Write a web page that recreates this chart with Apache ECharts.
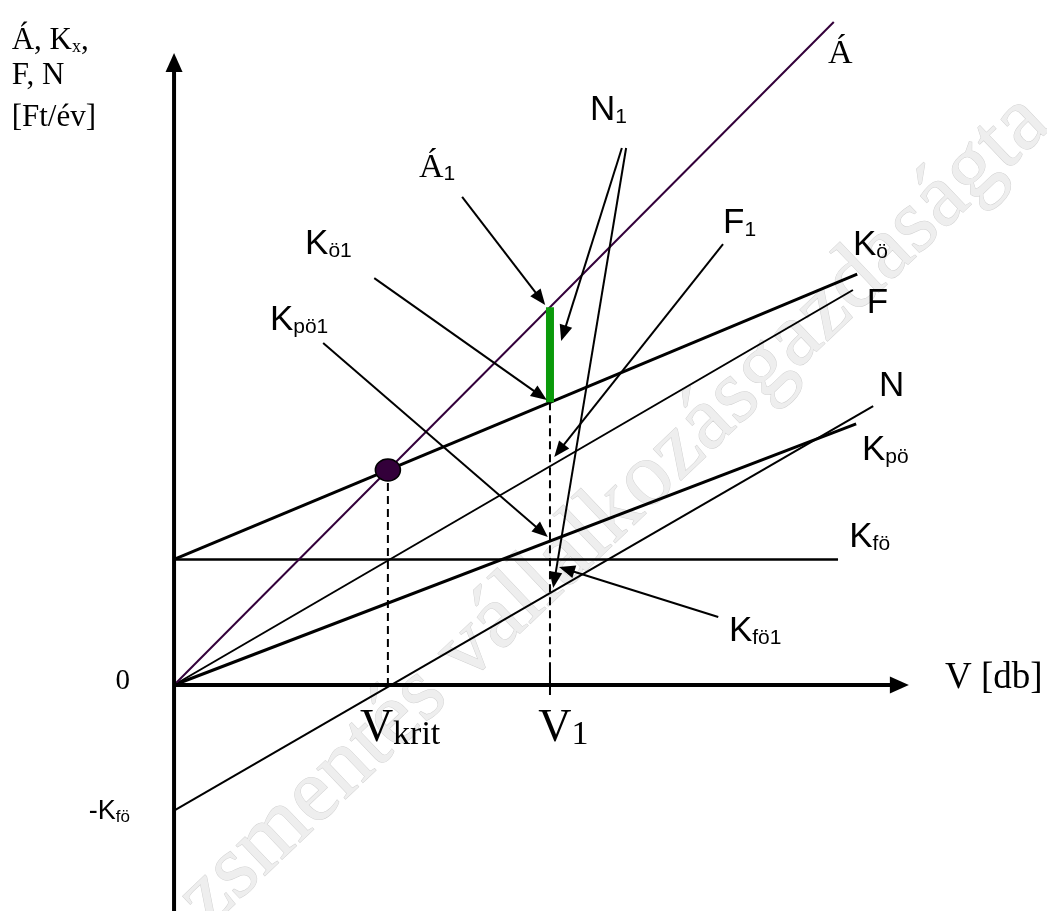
<!DOCTYPE html>
<html>
<head>
<meta charset="utf-8">
<title>Fedezeti diagram</title>
<script src="https://cdn.jsdelivr.net/npm/echarts@6/dist/echarts.min.js"></script>
<style>
  html, body { margin: 0; padding: 0; background: #fff; }
  #chart { width: 1047px; height: 911px; }
</style>
</head>
<body>
<div id="chart"></div>
<script>
/* Break-even (fedezeti) chart: V [db] on x, Á / Kx / F / N [Ft/év] on y, abstract units */

// straight lines as [start, end] points (V, Ft/év)
const revenueA = [[0, 0], [12.39, 52.8]];
const totalCostKo = [[0, 10], [12.83, 32.73]];
const contributionF = [[0, 0], [12.75, 31.46]];
const varCostKpo = [[0, 0], [12.81, 20.79]];
const profitN = [[0, -10], [13.13, 22.22]];
const fixedCostKfo = [[0, 10], [12.47, 10]];

const vKrit = 4.016;
const v1 = 7.06;
const breakEven = [vKrit, 17.12];
const revenueAtV1 = [v1, 30.09]; // Á1
const costAtV1 = [v1, 22.51];    // Kö1

// axes drawn as arrows
const axisArrows = [
  [0, -18, 0, 50.33],
  [0, 0, 13.8, 0],
];

// pointer arrows: [fromV, fromY, toV, toY]
const pointerArrows = [
  [5.41, 38.87, 6.97, 30.26],  // Á1
  [3.76, 32.41, 7.0, 22.7],    // Kö1
  [2.8, 27.24, 7.02, 11.79],   // Kpö1
  [8.41, 42.77, 7.27, 27.4],   // N1 -> green bar
  [8.49, 42.77, 7.12, 7.73],   // N1 -> N at V1
  [10.31, 35.12, 7.14, 18.16], // F1
  [10.22, 5.42, 7.23, 9.4],    // Kfö1
];

// text labels: position = left edge / vertical middle
const labels = [
  { value: [12.75, 35.04], text: '{A|K}{a|ö}' },
  { value: [13.01, 30.42], text: '{A|F}' },
  { value: [13.24, 23.81], text: '{A|N}' },
  { value: [12.92, 18.72], text: '{A|K}{a|pö}' },
  { value: [12.68, 11.79], text: '{A|K}{a|fö}' },
  { value: [10.42, 4.3], text: '{A|K}{a|fö1}' },
  { value: [2.46, 35.12], text: '{A|K}{a|ö1}' },
  { value: [1.8, 29.07], text: '{A|K}{a|pö1}' },
  { value: [7.81, 45.79], text: '{A|N}{a|1}' },
  { value: [10.31, 36.79], text: '{A|F}{a|1}' },
  { value: [4.6, 41.18], text: '{T|Á}{a1|1}' },
  { value: [-1.6, -10.11], text: '{As|-K}{as|fö}' },
  { value: [12.28, 50.25], text: '{T|Á}' },
  { value: [-1.1, 0.32], text: '{T0|0}' },
  { value: [-3.05, 51.29], text: '{T1|Á, K}{tx|x}{T1|,}' },
  { value: [-3.05, 48.5], text: '{T1|F, N}' },
  { value: [-3.05, 45.16], text: '{T1|[Ft/év]}' },
  { value: [14.48, 0.52], text: '{D|V [db]}' },
  { value: [3.49, -3.5], text: '{V|V}{v|krit}' },
  { value: [6.84, -3.5], text: '{V|V}{v|1}' },
];

const SANS = '"Liberation Sans", Arial, sans-serif';
const SERIF = '"Liberation Serif", "Times New Roman", serif';

function seg(pts, color, width, type, z) {
  return {
    type: 'line',
    data: pts,
    symbol: 'none',
    silent: true,
    z: z || 2,
    lineStyle: { color, width, type: type || 'solid', cap: 'butt' },
  };
}

function arrowSeries(items, headLen, headWid, width) {
  return {
    type: 'custom',
    coordinateSystem: 'cartesian2d',
    data: items,
    encode: { x: [0, 2], y: [1, 3] },
    clip: false,
    silent: true,
    z: 4,
    renderItem(params, api) {
      const p0 = api.coord([api.value(0), api.value(1)]);
      const p1 = api.coord([api.value(2), api.value(3)]);
      const dx = p1[0] - p0[0];
      const dy = p1[1] - p0[1];
      const len = Math.hypot(dx, dy);
      const ux = dx / len, uy = dy / len;
      const bx = p1[0] - ux * headLen, by = p1[1] - uy * headLen;
      const nx = -uy * headWid / 2, ny = ux * headWid / 2;
      return {
        type: 'group',
        children: [
          { type: 'line', shape: { x1: p0[0], y1: p0[1], x2: bx + ux, y2: by + uy },
            style: { stroke: '#000', lineWidth: width } },
          { type: 'polygon', shape: { points: [[p1[0], p1[1]], [bx + nx, by + ny], [bx - nx, by - ny]] },
            style: { fill: '#000' } },
        ],
      };
    },
  };
}

const chart = echarts.init(document.getElementById('chart'));

chart.setOption({
  animation: false,
  backgroundColor: '#fff',
  grid: { left: 1, right: 21, top: 7, bottom: 0 },
  xAxis: { type: 'value', min: -3.25, max: 16, show: false },
  yAxis: { type: 'value', min: -18, max: 54, show: false },
  graphic: [{
    type: 'text',
    x: 192, y: 912,
    rotation: 0.76,
    silent: true,
    z: 0,
    style: {
      text: 'zsmentés vállalkozásgazdaságta',
      font: '91px ' + SERIF,
      fill: '#eeeeee',
      stroke: '#d2d2d2',
      lineWidth: 1,
      align: 'left',
      verticalAlign: 'middle',
    },
  }],
  series: [
    seg(fixedCostKfo, '#000', 2.5),
    seg(varCostKpo, '#000', 3),
    seg(contributionF, '#000', 2),
    seg(profitN, '#000', 2),
    seg(totalCostKo, '#000', 3),
    seg(revenueA, '#33003a', 2),
    seg([breakEven, [vKrit, 0]], '#000', 2, [8, 5]),
    seg([costAtV1, [v1, -0.8]], '#000', 2, [8, 5]),
    seg([[v1, 1.2], [v1, -0.4]], '#000', 2),
    seg([revenueAtV1, costAtV1], '#0a9a0a', 8, 'solid', 3),
    arrowSeries(axisArrows, 19, 17, 4),
    arrowSeries(pointerArrows, 16, 13, 2),
    {
      type: 'scatter',
      data: [breakEven],
      symbol: 'circle',
      symbolSize: [25, 22],
      silent: true,
      z: 5,
      itemStyle: { color: '#33003a', borderColor: '#000', borderWidth: 1.5, opacity: 1 },
    },
    {
      type: 'scatter',
      data: labels,
      symbolSize: 0,
      silent: true,
      clip: false,
      z: 6,
      itemStyle: { opacity: 1 },
      label: {
        show: true,
        position: [0, 0],
        align: 'left',
        verticalAlign: 'middle',
        color: '#000',
        opacity: 1,
        formatter: (p) => p.data.text,
        rich: {
          A: { fontFamily: SANS, fontSize: 35, lineHeight: 35, color: '#000' },
          a: { fontFamily: SANS, fontSize: 21, lineHeight: 17, verticalAlign: 'bottom', color: '#000' },
          a1: { fontFamily: SANS, fontSize: 21, lineHeight: 24, verticalAlign: 'bottom', color: '#000' },
          As: { fontFamily: SANS, fontSize: 27, lineHeight: 27, color: '#000' },
          as: { fontFamily: SANS, fontSize: 17, lineHeight: 14, verticalAlign: 'bottom', color: '#000' },
          T: { fontFamily: SERIF, fontSize: 34, lineHeight: 34, color: '#000' },
          T0: { fontFamily: SERIF, fontSize: 29, lineHeight: 29, color: '#000' },
          T1: { fontFamily: SERIF, fontSize: 31, lineHeight: 31, color: '#000' },
          tx: { fontFamily: SERIF, fontSize: 18, lineHeight: 16, verticalAlign: 'bottom', color: '#000' },
          D: { fontFamily: SERIF, fontSize: 37, lineHeight: 37, color: '#000' },
          V: { fontFamily: SERIF, fontSize: 46, lineHeight: 46, color: '#000' },
          v: { fontFamily: SERIF, fontSize: 34, lineHeight: 24, verticalAlign: 'bottom', color: '#000' },
        },
      },
    },
  ],
});
</script>
</body>
</html>
